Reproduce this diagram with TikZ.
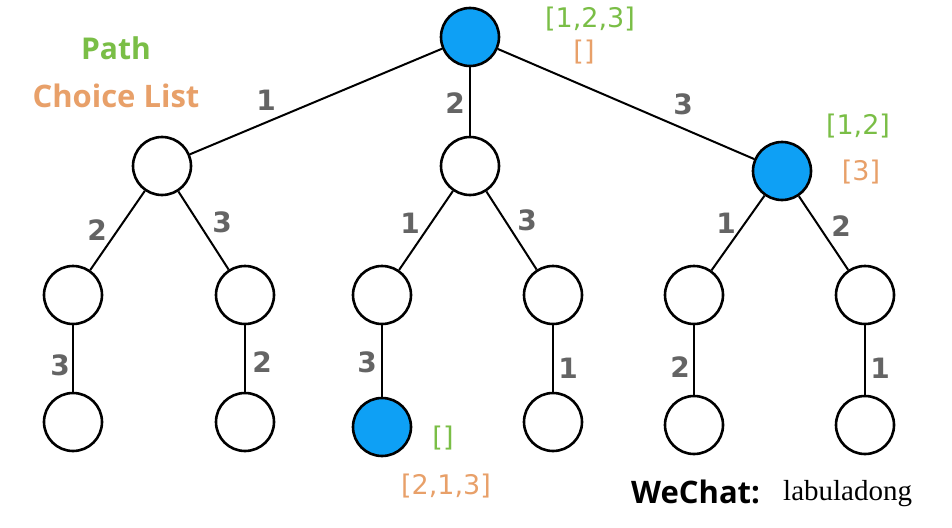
\documentclass[tikz,border=0pt]{standalone}
\usepackage{fontspec}
\setmainfont{Liberation Serif}
\setsansfont{Open Sans}
\newfontfamily\labelfont{DejaVu Sans}
\newfontfamily\digitfont{DejaVu Sans}
\definecolor{nodeblue}{RGB}{14,160,245}
\definecolor{pathgreen}{RGB}{122,190,70}
\definecolor{choiceorange}{RGB}{232,160,105}
\definecolor{edgegray}{RGB}{100,100,100}
\begin{document}
\begin{tikzpicture}[x=1pt,y=-1pt,
  tnode/.style={circle,draw=black,line width=2.6pt,minimum size=58pt,inner sep=0pt,fill=white},
  bnode/.style={tnode,fill=nodeblue},
  edge/.style={line width=2pt},
  elab/.style={font=\digitfont\bfseries\fontsize{28}{28}\selectfont,text=edgegray,inner sep=0pt},
  glab/.style={font=\labelfont\fontsize{27}{27}\selectfont,text=pathgreen,inner sep=0pt},
  olab/.style={font=\labelfont\fontsize{27}{27}\selectfont,text=choiceorange,inner sep=0pt}]
\useasboundingbox[fill=white] (0,0) rectangle (952,527);
% nodes
\node[bnode] (r) at (470,37) {};
\node[tnode] (a) at (162,166) {};
\node[tnode] (b) at (470,166) {};
\node[bnode] (c) at (782,171) {};
\node[tnode] (a1) at (73,295) {};
\node[tnode] (a2) at (245,295) {};
\node[tnode] (b1) at (382,295) {};
\node[tnode] (b2) at (553,295) {};
\node[tnode] (c1) at (694,295) {};
\node[tnode] (c2) at (865,295) {};
\node[tnode] (a11) at (73,422) {};
\node[tnode] (a21) at (245,422) {};
\node[bnode] (b11) at (382,427) {};
\node[tnode] (b21) at (553,422) {};
\node[tnode] (c11) at (694,425) {};
\node[tnode] (c21) at (865,425) {};
% edges
\draw[edge] (r) -- (a);
\draw[edge] (r) -- (b);
\draw[edge] (r) -- (c);
\draw[edge] (a) -- (a1);
\draw[edge] (a) -- (a2);
\draw[edge] (b) -- (b1);
\draw[edge] (b) -- (b2);
\draw[edge] (c) -- (c1);
\draw[edge] (c) -- (c2);
\draw[edge] (a1) -- (a11);
\draw[edge] (a2) -- (a21);
\draw[edge] (b1) -- (b11);
\draw[edge] (b2) -- (b21);
\draw[edge] (c1) -- (c11);
\draw[edge] (c2) -- (c21);
% edge labels
\node[elab] (e1) at (266,100) {1};
\node[elab] (e2) at (455,103) {2};
\node[elab] (e3) at (683,104) {3};
\node[elab] (e4) at (97,230) {2};
\node[elab] (e5) at (222,222) {3};
\node[elab] (e6) at (410,223) {1};
\node[elab] (e7) at (527,220) {3};
\node[elab] (e8) at (726,223) {1};
\node[elab] (e9) at (841,226) {2};
\node[elab] (e10) at (60,365) {3};
\node[elab] (e11) at (262,362) {2};
\node[elab] (e12) at (367,362) {3};
\node[elab] (e13) at (568,368) {1};
\node[elab] (e14) at (680,367) {2};
\node[elab] (e15) at (880,368) {1};
% state labels
\node[glab] (s1) at (590,19) {[1,2,3]};
\node[olab] (s2) at (584,52) {[]};
\node[glab] (s3) at (858,126) {[1,2]};
\node[olab] (s4) at (861,172) {[3]};
\node[glab] (s5) at (443,438) {[]};
\node[olab] (s6) at (446,486) {[2,1,3]};
% legend
\node[font=\sffamily\bfseries\fontsize{30}{30}\selectfont,text=pathgreen,inner sep=0pt] (lp) at (116,48) {Path};
\node[font=\sffamily\bfseries\fontsize{31}{31}\selectfont,text=choiceorange,inner sep=0pt] (lc) at (116,96) {Choice List};
\node[font=\sffamily\bfseries\fontsize{31}{31}\selectfont,inner sep=0pt,anchor=west] (wc) at (631,492) {WeChat:};
\node[font=\rmfamily\fontsize{29}{29}\selectfont,inner sep=0pt,anchor=west] (wl) at (783,494) {labuladong};
\end{tikzpicture}
\end{document}
